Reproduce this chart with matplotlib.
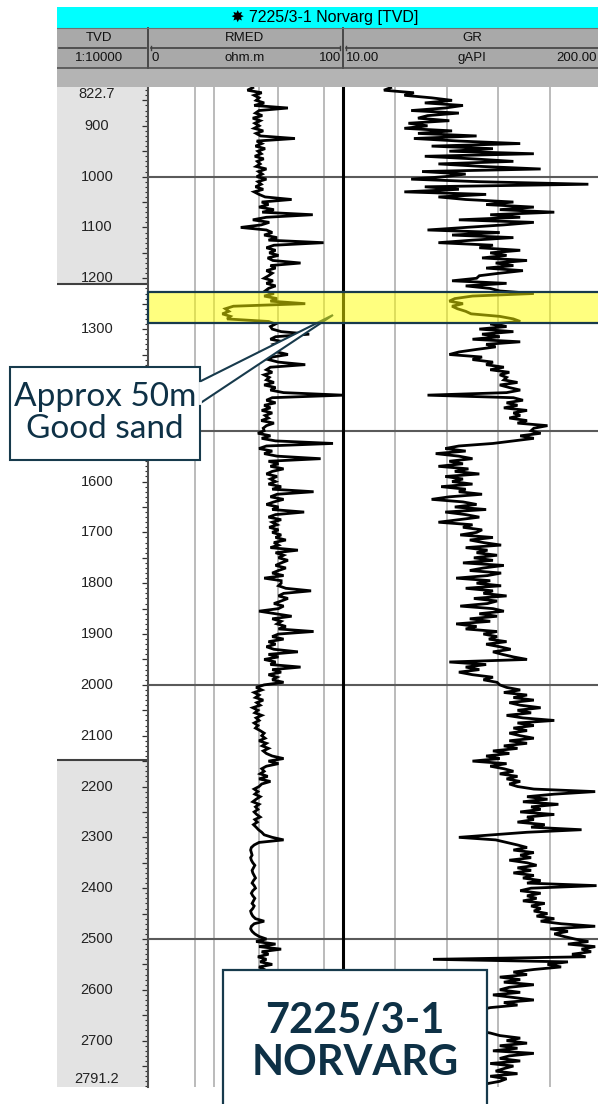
import matplotlib.pyplot as plt
import numpy as np
from matplotlib.patches import Rectangle, Polygon
from matplotlib.ticker import MultipleLocator
from matplotlib.transforms import blended_transform_factory

depth = np.arange(825, 2790, 5)  # TVD, m

gr = [
    45, 40, 62, 55, 75, 90, 70, 98, 85, 60, 95, 72, 65, 88, 58,                      # 825-895
    72, 55, 90, 65, 108, 62, 95, 140, 75, 120, 88, 150, 70, 105, 135, 80, 112, 155, 68, 100,
    85, 60, 110, 190, 70, 95, 55, 115, 80, 100, 135, 115, 150, 125, 165, 118, 140, 95, 150, 128,
    100, 72, 125, 90, 135, 105, 80, 120, 110, 140, 118, 130, 112, 145, 122, 135, 115, 142, 125, 110,
    108, 90, 130, 100, 118, 125, 150, 105, 92, 88, 98, 90, 94, 100, 104, 125, 135, 140, 118, 130,
    110, 135, 112, 125, 105, 140, 115, 122, 108, 95, 88, 112, 105, 120, 115, 128, 118, 132, 125, 130,
    128, 138, 125, 132, 140, 130, 72, 135, 142, 130, 138, 128, 145, 135, 140, 132, 145, 138, 160, 150,
    148, 155, 140, 150, 135, 120, 95, 85, 100, 78, 95, 105, 88, 98, 80, 102, 92, 110, 85, 98,
    90, 105, 82, 100, 95, 112, 88, 75, 98, 108, 92, 115, 85, 100, 110, 95, 80, 105, 98, 112,
    108, 96, 120, 103, 113, 126, 100, 116, 108, 123, 106, 120, 98, 128, 113, 103, 126, 116, 93, 118,
    108, 126, 100, 120, 113, 130, 106, 123, 116, 96, 120, 128, 110, 123, 103, 118, 93, 108, 100, 123,
    113, 123, 117, 130, 115, 125, 133, 120, 127, 135, 145, 88, 115, 100, 110, 95, 105, 120, 113, 123,
    125, 130, 140, 128, 145, 135, 150, 132, 140, 155, 138, 148, 130, 142, 165, 138, 150, 135, 145, 132,
    140, 150, 132, 145, 128, 138, 120, 132, 115, 125, 105, 130, 118, 128, 135, 125, 138, 130, 140, 132,
    138, 150, 195, 165, 145, 160, 142, 168, 148, 155, 140, 165, 145, 150, 138, 158, 148, 185, 145, 120,
    95, 122, 130, 138, 145, 135, 150, 140, 148, 132, 145, 152, 138, 148, 135, 150, 142, 155, 145, 196,
    148, 140, 155, 145, 152, 142, 158, 148, 155, 150, 160, 152, 165, 155, 170, 195, 162, 175, 165, 172,
    180, 190, 175, 195, 185, 192, 178, 188, 76, 175, 160, 170, 150, 135, 145, 125, 140, 128, 150, 132,
    125, 140, 120, 135, 150, 128, 138, 118, 110, 100, 95, 105, 90, 100, 112, 95, 108, 118, 125, 140,
    130, 145, 125, 138, 120, 150, 132, 125, 140, 118, 135, 128, 122, 138, 118, 130, 125, 115,  # 2700-2785
]

rmed = [
    4.0, 3.3, 5.5, 4.2, 5.0, 4.5, 6.0, 4.2, 14, 5.0, 4.4, 5.6, 4.0, 5.2, 4.3,          # 825-895
    5.0, 4.2, 5.8, 4.5, 5.3, 18, 4.6, 5.5, 4.4, 6.2, 4.8, 5.4, 4.3, 5.9, 4.7, 5.2, 4.5, 6.5, 4.9, 5.6,
    4.6, 6.5, 4.8, 5.4, 4.4, 5.8, 4.2, 5.0, 6.2, 16, 5.5, 7.0, 5.0, 8.5, 5.6, 34, 6.5, 4.0, 7.2, 5.4,
    2.6, 6.5, 8.0, 6.0, 9.5, 7.0, 50, 8.5, 6.5, 9.0, 7.2, 10, 6.8, 8.2, 22, 7.5, 9.0, 6.5, 8.0, 7.0,
    6.0, 8.2, 6.5, 9.0, 7.0, 6.2, 8.5, 6.0, 9.5, 7.5, 26, 2.0, 1.5, 1.7, 1.35, 1.8, 1.6, 7.0, 9.0, 7.5,
    8.0, 11, 30, 9.0, 7.5, 12, 8.5, 10, 7.0, 9.5, 14, 8.0, 7.0, 10, 26, 7.5, 6.5, 8.0, 6.0, 7.2,
    6.5, 8.5, 6.0, 9.0, 7.5, 12, 100, 8.0, 6.5, 9.0, 6.0, 7.5, 5.5, 8.0, 6.2, 7.0, 5.4, 8.5, 6.5, 5.8,
    6.0, 4.8, 7.5, 5.5, 9.0, 70, 6.5, 5.0, 8.0, 6.0, 9.5, 45, 7.0, 10, 7.5, 12, 8.0, 6.5, 9.5, 7.5,
    9.0, 7.0, 11, 8.0, 35, 9.5, 7.5, 12, 8.5, 6.5, 10, 8.0, 25, 9.0, 7.0, 11, 8.0, 9.5, 7.2, 10,
    8.0, 11, 9.0, 13, 8.5, 10, 7.5, 20, 9.0, 12, 10, 14, 11, 9.0, 13, 10, 8.0, 12, 6.0, 11,
    11, 10, 13, 32, 12, 10, 14, 11, 8.5, 12, 10, 5.0, 9.0, 16, 8.0, 11, 9.5, 13, 10, 35,
    10, 8.0, 12, 7.0, 9.0, 6.5, 8.5, 20, 7.0, 10, 6.0, 9.0, 7.5, 22, 8.0, 11, 7.0, 9.5, 8.0, 12,
    6.0, 4.5, 5.5, 4.2, 5.0, 4.4, 5.8, 4.6, 5.2, 4.0, 4.8, 4.3, 5.5, 4.5, 5.0, 4.2, 4.8, 4.4, 5.2, 6.0,
    5.5, 6.2, 5.0, 6.5, 5.6, 7.0, 5.8, 6.5, 8.0, 12, 7.0, 10, 6.5, 5.5, 6.0, 5.2, 6.8, 5.0, 7.5, 5.5,
    5.0, 4.2, 4.8, 4.3, 5.2, 4.5, 4.0, 5.0, 4.4, 4.8, 4.2, 4.6, 5.2, 4.3, 4.7, 4.1, 4.5, 4.9, 5.5, 6.0,
    8.0, 12, 5.0, 4.2, 3.8, 3.7, 3.8, 3.9, 3.7, 3.8, 4.0, 4.3, 4.1, 3.9, 4.0, 4.2, 4.4, 4.1, 3.9, 4.2,
    4.4, 4.0, 3.8, 4.0, 4.3, 4.1, 3.9, 4.2, 4.0, 3.7, 3.8, 4.0, 4.4, 6.0, 4.2, 3.8, 3.7, 3.9, 4.3, 5.0,
    6.5, 4.5, 9.0, 5.0, 11, 5.5, 7.0, 4.8, 6.5, 5.2, 8.0, 5.0, 6.0, 4.5, 7.5, 5.2, 6.5, 4.8, 8.0, 5.5,
    6.0, 5.0, 7.0, 5.5, 6.5, 5.0, 7.5, 5.8, 6.2, 5.0, 5.5, 4.8, 6.0, 5.2, 6.8, 5.4, 6.0, 5.0, 6.5, 5.5,
    6.0, 5.2, 7.0, 5.5, 6.5, 5.0, 6.2, 5.4, 7.2, 5.6, 6.0, 5.0, 6.5, 5.5, 6.0, 5.2, 6.5, 5.8,  # 2700-2785
]

# 1400 and 1500 sit under the callout box in the reference, so they are not shown
depth_labels = ['822.7', '900', '1000', '1100', '1200', '1300', '1600', '1700', '1800',
                '1900', '2000', '2100', '2200', '2300', '2400', '2500', '2600', '2700', '2791.2']
d_top, d_bot = 822.7, 2791.2
gray_zones = [(822.7, 1212), (2148, 2791.2)]
sand_top, sand_base = 1228, 1289

W, H = 598, 1104
NARROW = ['Liberation Sans Narrow', 'Liberation Sans', 'DejaVu Sans']
TEAL = '#173a4c'

fig = plt.figure(figsize=(W / 100, H / 100), dpi=100)


def rect(x0, y0, x1, y1):
    # pixel box -> figure fraction
    return [x0 / W, 1 - y1 / H, (x1 - x0) / W, (y1 - y0) / H]


TOP, BOT = 86.5, 1087
ax_d = fig.add_axes(rect(57, TOP, 148, BOT))
ax_r = fig.add_axes(rect(148, TOP, 343, BOT))
ax_g = fig.add_axes(rect(343, TOP, 602, BOT))

for ax in (ax_d, ax_r, ax_g):
    ax.set_ylim(d_bot, d_top)
    for s in ax.spines.values():
        s.set_visible(False)
# keep the track boundary lines from being painted over by the next track
ax_r.patch.set_alpha(0)
ax_g.patch.set_alpha(0)

# depth track
ax_d.set_xlim(0, 1)
for a, b in gray_zones:
    ax_d.axhspan(a, b, color='#e3e3e3', lw=0)
ax_d.axhline(gray_zones[0][1], color='#404040', lw=1.5)
ax_d.axhline(gray_zones[1][0], color='#404040', lw=1.5)
ax_d.set_xticks([])
ax_d.yaxis.tick_right()
ax_d.yaxis.set_major_locator(MultipleLocator(50))
ax_d.yaxis.set_minor_locator(MultipleLocator(10))
ax_d.tick_params(axis='y', which='major', direction='in', length=4.5, width=0.9,
                 color='#303030', labelright=False)
ax_d.tick_params(axis='y', which='minor', direction='in', length=2.5, width=0.8,
                 color='#303030')
ax_d.spines['right'].set_visible(True)
ax_d.spines['right'].set_color('#505050')
ax_d.spines['right'].set_linewidth(1.5)
for lab in depth_labels:
    d = float(lab)
    va = 'center'
    if d == d_top:
        va, d = 'top', d + 1
    elif d == d_bot:
        va, d = 'bottom', d - 1
    ax_d.text(0.44, d, lab, ha='center', va=va, fontsize=10.5, family=NARROW,
              color='#222222')

# RMED track (log)
ax_r.set_xscale('log')
ax_r.set_xlim(0.095, 100)
for v in [0.5, 1, 5, 10, 50]:
    ax_r.axvline(v, color='#a8a8a8', lw=1.1, zorder=0)
ax_r.plot(rmed, depth, color='black', lw=2.0, solid_joinstyle='miter', zorder=3)

# GR track
ax_g.set_xlim(10, 200)
for v in [48, 86, 124, 162]:
    ax_g.axvline(v, color='#a8a8a8', lw=1.1, zorder=0)
ax_g.plot(gr, depth, color='black', lw=2.0, solid_joinstyle='miter', zorder=3)
ax_g.axvline(10, color='black', lw=2.2, zorder=4, clip_on=False)

for ax in (ax_r, ax_g):
    ax.set_xticks([], minor=True)
    ax.set_xticks([])
    ax.set_yticks([])
    for d in [1000, 1500, 2000, 2500]:
        ax.axhline(d, color='#5a5a5a', lw=1.5, zorder=1)

# header
hd = fig.add_axes(rect(57, 7, 602, TOP))
hd.set_xlim(57, 602)
hd.set_ylim(TOP, 7)
hd.axis('off')
hd.add_patch(Rectangle((57, 7), 545, 21, color='#00ffff', lw=0))
hd.add_patch(Rectangle((57, 28), 545, 40, color='#a9a9a9', lw=0))
hd.add_patch(Rectangle((57, 68), 545, TOP - 68, color='#b4b4b4', lw=0))
hd.text(325, 17.5, '\u2738 7225/3-1 Norvarg [TVD]', ha='center', va='center',
        fontsize=11.5, family=NARROW, color='black')
for x in (148, 343):
    hd.plot([x, x], [28, 68], color='#404040', lw=1.3)
hd.plot([57, 602], [28, 28], color='#707070', lw=0.8)
hd.plot([57, 602], [68, 68], color='#505050', lw=1.2)
hd.plot([59, 146], [48, 48], color='#404040', lw=1.2)
hd.plot([151, 340], [48, 48], color='#404040', lw=1.2)
hd.plot([346, 602], [48, 48], color='#404040', lw=1.2)
for x in (151, 340, 346):
    hd.plot([x, x], [46, 50], color='#404040', lw=1)
hkw = dict(va='center', fontsize=9.5, family=NARROW, color='#111111')
hd.text(99, 38, 'TVD', ha='center', **hkw)
hd.text(245, 38, 'RMED', ha='center', **hkw)
hd.text(472, 38, 'GR', ha='center', **hkw)
hd.text(99, 58, '1:10000', ha='center', **hkw)
hd.text(152, 58, '0', ha='left', **hkw)
hd.text(245, 58, 'ohm.m', ha='center', **hkw)
hd.text(341, 58, '100', ha='right', **hkw)
hd.text(346, 58, '10.00', ha='left', **hkw)
hd.text(472, 58, 'gAPI', ha='center', **hkw)
hd.text(597, 58, '200.00', ha='right', **hkw)

# sand interval highlight spanning both curve tracks
tr = blended_transform_factory(fig.transFigure, ax_r.transData)
fig.add_artist(Rectangle((148 / W, sand_top), (602 - 148) / W, sand_base - sand_top,
                         transform=tr, facecolor=(1, 1, 0, 0.5), edgecolor=TEAL,
                         lw=1.6, zorder=10))

# callout
ov = fig.add_axes([0, 0, 1, 1])
ov.set_xlim(0, W)
ov.set_ylim(H, 0)
ov.axis('off')
ov.patch.set_alpha(0)
ov.add_patch(Polygon([(199, 382), (333, 315), (199, 404)], closed=True,
                     facecolor='white', edgecolor=TEAL, lw=1.5, zorder=5))
ov.add_patch(Rectangle((10, 367), 190, 93, facecolor='white', edgecolor=TEAL,
                       lw=1.5, zorder=6))
ov.plot([199.5, 199.5], [383, 403], color='white', lw=2, zorder=7)
ov.text(105, 413, 'Approx 50m\nGood sand', ha='center', va='center',
        fontsize=24, family=['Lato', 'DejaVu Sans'], color='#0e3146',
        linespacing=1.05, zorder=8)

ov.add_patch(Rectangle((223, 970), 264, 150, facecolor='white', edgecolor=TEAL,
                       lw=1.6, zorder=6))
ov.text(355, 1042, '7225/3-1\nNORVARG', ha='center', va='center',
        fontsize=30, fontweight='bold', family=['Lato', 'DejaVu Sans'],
        color='#0e3146', linespacing=1.15, zorder=8)

fig.savefig('out.png', dpi=100)
